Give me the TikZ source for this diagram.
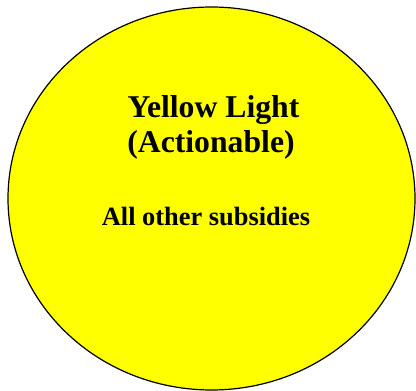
\documentclass[tikz,border=0pt]{standalone}
\usepackage{fontspec}
\setmainfont{Liberation Serif}
\definecolor{lightyellow}{RGB}{255,255,0}
\begin{document}
\begin{tikzpicture}[x=1pt,y=-1pt,line join=round]
	\tikzset{title/.style={font=\fontsize{31.7}{35}\selectfont\bfseries,anchor=base},
		item/.style={font=\fontsize{26.4}{30}\selectfont\bfseries,anchor=base}}
	\useasboundingbox (0,0) rectangle (416,391);
	\draw[fill=lightyellow,line width=1.2pt] (211.5,198.5) ellipse [x radius=203.5,y radius=191.5];
	\node[title] (head) at (213.5,117.5) {Yellow Light};
	\node[title] (sub) at (211,152.5) {(Actionable)};
	\node[item] (rest) at (206,225.5) {All other subsidies};
\end{tikzpicture}
\end{document}
